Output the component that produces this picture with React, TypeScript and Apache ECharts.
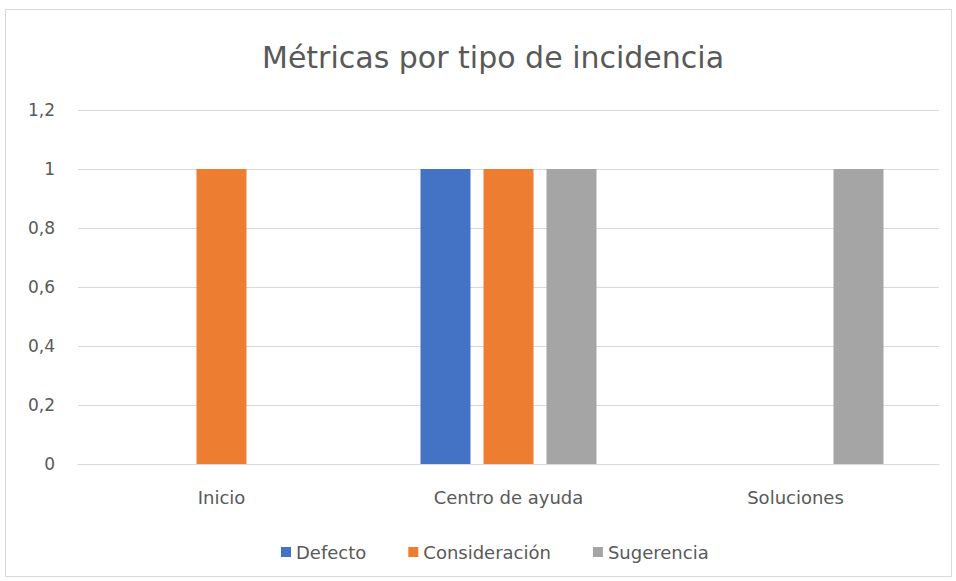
import React, { useEffect, useRef } from "react";
import * as echarts from "echarts";

const categories = ["Inicio", "Centro de ayuda", "Soluciones"];
const seriesNames = ["Defecto", "Consideración", "Sugerencia"];
const defecto = [null, 1, null];
const consideracion = [1, 1, null];
const sugerencia = [null, 1, 1];
const colors = ["#4472C4", "#ED7D31", "#A5A5A5"];
const titleText = "Métricas por tipo de incidencia";

export default function App() {
  const ref = useRef<HTMLDivElement>(null);
  useEffect(() => {
    if (!ref.current) return;
    const chart = echarts.init(ref.current, null, { renderer: "svg" });
    const font = "'DejaVu Sans', sans-serif";
    const values = [defecto, consideracion, sugerencia];
    chart.setOption({
      animation: false,
      backgroundColor: "#ffffff",
      textStyle: { fontFamily: font },
      title: {
        text: titleText,
        left: 257,
        top: 37,
        textStyle: { fontSize: 30, fontWeight: "normal", color: "#595959", fontFamily: font },
      },
      graphic: [
        {
          type: "rect",
          shape: { x: 5.5, y: 9.5, width: 946, height: 567 },
          style: { fill: "none", stroke: "#D9D9D9", lineWidth: 1 },
          silent: true,
        },
      ],
      legend: {
        top: 538,
        left: 276,
        itemWidth: 10,
        itemHeight: 10,
        itemGap: 42,
        icon: "rect",
        textStyle: { fontSize: 18, color: "#595959", fontFamily: font },
        data: seriesNames,
      },
      grid: { left: 78, right: 17, top: 110, bottom: 117, containLabel: false },
      xAxis: {
        type: "category",
        data: categories,
        axisLine: { lineStyle: { color: "#D9D9D9", width: 1 } },
        axisTick: { show: false },
        axisLabel: { fontSize: 18, color: "#595959", margin: 24 },
      },
      yAxis: {
        type: "value",
        min: 0,
        max: 1.2,
        interval: 0.2,
        axisLine: { show: false },
        axisTick: { show: false },
        splitLine: { lineStyle: { color: "#D9D9D9", width: 1 } },
        axisLabel: {
          fontSize: 17,
          color: "#595959",
          margin: 23,
          formatter: (v: number) => String(Number(v.toFixed(1))).replace(".", ","),
        },
      },
      series: seriesNames.map((name, i) => ({
        name,
        type: "bar",
        data: values[i],
        barWidth: 50,
        barGap: "26%",
        itemStyle: { color: colors[i] },
      })),
    });
    return () => chart.dispose();
  }, []);
  return (
    <div
      ref={ref}
      style={{ position: "absolute", left: 0, top: 0, width: 956, height: 581 }}
    />
  );
}
